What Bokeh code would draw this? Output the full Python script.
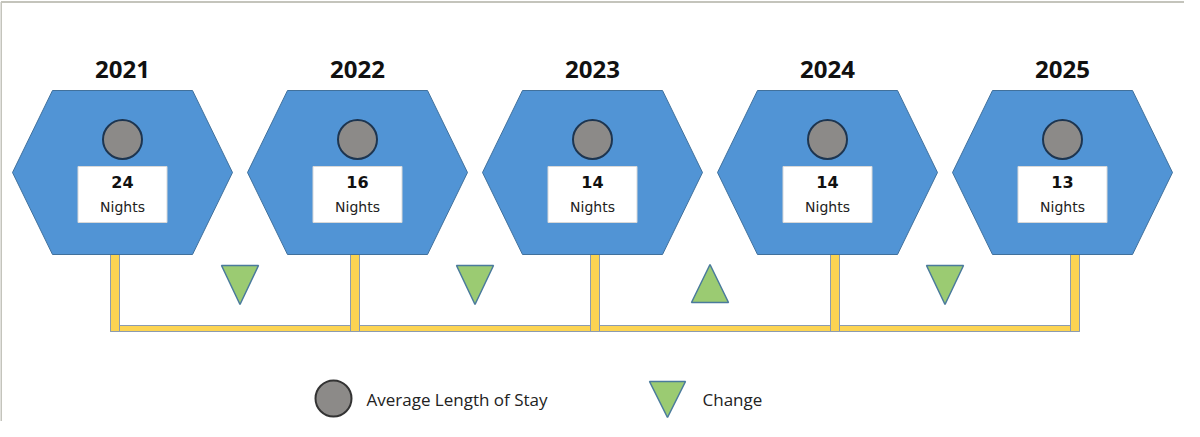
from bokeh.plotting import figure
from bokeh.models import Range1d, ColumnDataSource
from bokeh.core.properties import value
from bokeh.embed import file_html
from bokeh.resources import INLINE

# ---- data ----
years = ["2021", "2022", "2023", "2024", "2025"]
nights = [24, 16, 14, 14, 13]
unit_label = "Nights"
change_dir = ["down", "down", "up", "down"]  # change between consecutive years
legend_labels = ["Average Length of Stay", "Change"]

# ---- layout (pixel space of the picture) ----
W, H = 1184, 421
X0, STEP = 130, 235          # hexagon centres
STEM_X0, STEM_STEP = 122.5, 240
CY = 180
HALF_W, HALF_TOP, HALF_H = 110, 70, 82
BOX_W, BOX_H, BOX_CY = 89, 56, 202
CIRCLE_Y = 147
BAR_TOP, BAR_BOT = 333, 339
TRI_TOP, TRI_BOT, TRI_HALF = 273, 312, 18.5

HEX_FILL, HEX_LINE = "#5194d5", "#41719c"
YELLOW, YELLOW_LINE = "#fcd452", "#8b9bb0"
GREEN, GREEN_LINE = "#9bcb72", "#4a7a9c"
GREY, GREY_LINE = "#8c8a88", "#1d3550"
FONT = "Open Sans"

n = len(years)
hx = [X0 + i * STEP for i in range(n)]
sx = [STEM_X0 + i * STEM_STEP for i in range(n)]

p = figure(width=W, height=H, x_range=Range1d(8, 8 + W), y_range=Range1d(8 + H, 8),
           output_backend="svg", toolbar_location=None, min_border=0,
           x_axis_location=None, y_axis_location=None)
p.grid.visible = False
p.outline_line_color = None
p.background_fill_color = "white"

# frame lines
p.segment(x0=[8.5, 8.5], y0=[9.5, 9.5], x1=[8 + W, 8.5], y1=[9.5, 8 + H],
          line_color="#c4c4bc", line_width=2)

# connector bar and stems
p.quad(left=[sx[0] - 4.5], right=[sx[-1] + 4.5], top=[BAR_TOP], bottom=[BAR_BOT],
       fill_color=YELLOW, line_color=YELLOW_LINE, line_width=1)
p.quad(left=[x - 4.5 for x in sx], right=[x + 4.5 for x in sx],
       top=[CY + HALF_H] * n, bottom=[BAR_BOT] * n,
       fill_color=YELLOW, line_color=YELLOW_LINE, line_width=1)

# hexagons
xs = [[c - HALF_W, c - HALF_TOP, c + HALF_TOP, c + HALF_W, c + HALF_TOP, c - HALF_TOP] for c in hx]
ys = [[CY, CY - HALF_H, CY - HALF_H, CY, CY + HALF_H, CY + HALF_H] for _ in hx]
p.patches(xs, ys, fill_color=HEX_FILL, line_color=HEX_LINE, line_width=1)

# circles
p.scatter(x=hx, y=[CIRCLE_Y] * n, marker="circle", size=39,
          fill_color=GREY, line_color=GREY_LINE, line_width=2)

# white boxes
p.rect(x=hx, y=[BOX_CY] * n, width=BOX_W, height=BOX_H,
       fill_color="white", line_color="#d8d8d8", line_width=1)

src = ColumnDataSource(dict(x=hx, year=years, num=[str(v) for v in nights],
                            unit=[unit_label] * n))
p.text(x="x", y=77, text="year", source=src, text_align="center", text_baseline="middle",
       text_font=value(FONT), text_font_style="bold", text_font_size="24px", text_color="#111111")
p.text(x="x", y=BOX_CY - 13, text="num", source=src, text_align="center", text_baseline="middle",
       text_font=value("DejaVu Sans"), text_font_style="bold", text_font_size="16px", text_color="#111111")
p.text(x="x", y=BOX_CY + 12, text="unit", source=src, text_align="center", text_baseline="middle",
       text_font=value("DejaVu Sans"), text_font_size="14px", text_color="#222222")

# change triangles
tx, ty = [], []
for i, d in enumerate(change_dir):
    c = (hx[i] + hx[i + 1]) / 2
    if d == "down":
        tx.append([c - TRI_HALF, c + TRI_HALF, c])
        ty.append([TRI_TOP, TRI_TOP, TRI_BOT])
    else:
        tx.append([c - TRI_HALF, c + TRI_HALF, c])
        ty.append([TRI_BOT - 2, TRI_BOT - 2, TRI_TOP - 1])
p.patches(tx, ty, fill_color=GREEN, line_color=GREEN_LINE, line_width=1.5)

# legend
LEG_Y = 406
p.scatter(x=[341], y=[LEG_Y], marker="circle", size=36,
          fill_color=GREY, line_color="#333333", line_width=2)
p.text(x=[374], y=[LEG_Y + 1], text=[legend_labels[0]], text_align="left", text_baseline="middle",
       text_font=value(FONT), text_font_size="17px", text_color="#222222")
p.patches([[657, 693, 675]], [[389, 389, 425]], fill_color=GREEN, line_color=GREEN_LINE, line_width=1.5)
p.text(x=[710], y=[LEG_Y + 1], text=[legend_labels[1]], text_align="left", text_baseline="middle",
       text_font=value(FONT), text_font_size="17px", text_color="#222222")

open("out.html", "w").write(file_html(p, INLINE))
